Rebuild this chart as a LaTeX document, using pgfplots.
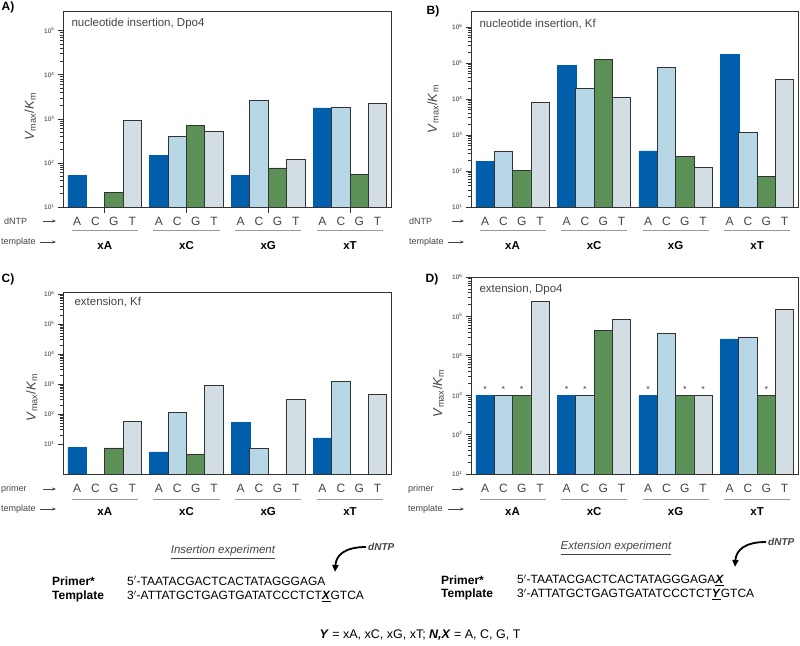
\documentclass[border=0pt]{standalone}
\usepackage{fontspec}
\setmainfont{Liberation Sans}
\usepackage{pgfplots}
\pgfplotsset{compat=1.18}
\usetikzlibrary{arrows.meta}

\definecolor{dblue}{HTML}{005EAA}
\definecolor{lblue}{HTML}{B8D7E6}
\definecolor{dgreen}{HTML}{5B9157}
\definecolor{lgray}{HTML}{D3DDE4}
\definecolor{outl}{HTML}{333333}
\definecolor{axisgray}{HTML}{333333}
\definecolor{labelgray}{HTML}{444444}
\definecolor{linegray}{HTML}{999999}

\newcommand{\tickfont}{\fontsize{6.5}{7}\selectfont}
\newcommand{\catfont}{\fontsize{12}{14}\selectfont}
\newcommand{\grpfont}{\fontsize{11.5}{13}\selectfont\bfseries}
\newcommand{\ttlfont}{\fontsize{11.5}{13}\selectfont}
\newcommand{\sidefont}{\fontsize{9}{10}\selectfont}
\newcommand{\labfont}{\fontsize{13}{15}\selectfont}
\newcommand{\seqfont}{\fontsize{12}{14}\selectfont}

\pgfplotsset{
  every axis/.append style={
    scale only axis, width=328pt,
    xmin=-0.77, xmax=17.08,
    clip mode=individual,
    axis line style={draw=axisgray, line width=0.9pt},
    xtick={0,1,2,3,4.45,5.45,6.45,7.45,8.9,9.9,10.9,11.9,13.35,14.35,15.35,16.35},
    xticklabels={A,C,G,T,A,C,G,T,A,C,G,T,A,C,G,T},
    ytick pos=left, tick align=outside, major tick length=5pt,
    xtick style={draw=none},
    ytick style={draw=axisgray, line width=0.6pt},
    yticklabel style={font=\tickfont, text=axisgray},
    xticklabel style={font=\catfont, text=labelgray, yshift=-2pt},
    ylabel style={font=\labfont, text=labelgray, anchor=center},
  },
  barA/.style={ybar, bar width=1, bar shift=0pt, fill=dblue, draw=dblue, line width=0.5pt},
  barC/.style={ybar, bar width=1, bar shift=0pt, fill=lblue, draw=outl, line width=0.8pt},
  barG/.style={ybar, bar width=1, bar shift=0pt, fill=dgreen, draw=outl, line width=0.8pt},
  barT/.style={ybar, bar width=1, bar shift=0pt, fill=lgray, draw=outl, line width=0.8pt},
}
\newcommand{\vk}{\textit{V}\textsubscript{max}/\textit{K}\textsubscript{m}}
\newcommand{\ylab}{\pgfmathtruncatemacro\ee{round(\tick/2.302585)}10\textsuperscript{\ee}}

% group line and bold template name below the axis
\newcommand{\grp}[5]{%
  \draw[linegray, line width=0.7pt] ([yshift=-\lineoff]axis cs:#1,#5) -- ([yshift=-\lineoff]axis cs:#2,#5);
  \node[font=\grpfont, text=black] at ([yshift=-\labeloff]axis cs:#3,#5) {#4};}
\newcommand{\groups}[1]{%
  \grp{-0.3}{3.3}{1.5}{xA}{#1}
  \grp{4.15}{7.75}{5.95}{xC}{#1}
  \grp{8.6}{12.2}{10.4}{xG}{#1}
  \grp{13.05}{16.65}{14.85}{xT}{#1}}

\begin{document}
\begin{tikzpicture}[x=1pt,y=1pt]
\path[use as bounding box] (0,0) rectangle (800,645);

% ---------------- A ----------------
\def\lineoff{23pt}\def\labeloff{39pt}
\begin{axis}[at={(63pt,438pt)}, anchor=south west, height=196pt,
    ymode=log, log origin=infty, yticklabel={\ylab}, ylabel={\vk},
    ymin=10, ymax=2.8e5, ytick={10,100,1000,10000,100000},
    ylabel style={at={(axis description cs:-0.1,0.46)}}]
  \addplot[barA] coordinates {(0,52) (4.45,148) (8.9,52) (13.35,1780)};
  \addplot[barC] coordinates {(5.45,390) (9.9,2640) (14.35,1800)};
  \addplot[barG] coordinates {(2,21) (6.45,725) (10.9,77) (15.35,55)};
  \addplot[barT] coordinates {(3,900) (7.45,525) (11.9,123) (16.35,2200)};
  \node[anchor=west, font=\ttlfont, text=labelgray] at ([xshift=5pt,yshift=-13pt]rel axis cs:0,1) {nucleotide insertion, Dpo4};
  \draw[axisgray, line width=0.7pt] (axis cs:1.5,10) -- ([yshift=-6pt]axis cs:1.5,10);
  \draw[axisgray, line width=0.7pt] (axis cs:5.95,10) -- ([yshift=-6pt]axis cs:5.95,10);
  \draw[axisgray, line width=0.7pt] (axis cs:10.4,10) -- ([yshift=-6pt]axis cs:10.4,10);
  \draw[axisgray, line width=0.7pt] (axis cs:14.85,10) -- ([yshift=-6pt]axis cs:14.85,10);
  \groups{10}
\end{axis}

% ---------------- B ----------------
\begin{axis}[at={(471pt,438pt)}, anchor=south west, width=327pt, height=196pt,
    ymode=log, log origin=infty, yticklabel={\ylab}, ylabel={\vk},
    ymin=10, ymax=2.75e6, ytick={10,100,1000,10000,100000,1000000},
    ylabel style={at={(axis description cs:-0.116,0.5)}}]
  \addplot[barA] coordinates {(0,187) (4.45,86000) (8.9,360) (13.35,174000)};
  \addplot[barC] coordinates {(1,360) (5.45,20000) (9.9,75000) (14.35,1160)};
  \addplot[barG] coordinates {(2,103) (6.45,123000) (10.9,250) (15.35,70)};
  \addplot[barT] coordinates {(3,7800) (7.45,11200) (11.9,125) (16.35,35000)};
  \node[anchor=west, font=\ttlfont, text=labelgray] at ([xshift=5pt,yshift=-13pt]rel axis cs:0,1) {nucleotide insertion, Kf};
  \groups{10}
\end{axis}

% ---------------- C ----------------
\def\lineoff{25pt}\def\labeloff{38pt}
\begin{axis}[at={(63pt,171pt)}, anchor=south west, height=182pt,
    ymode=log, log origin=infty, yticklabel={\ylab}, ylabel={\vk},
    ymin=1, ymax=1.17e6, ytick={10,100,1000,10000,100000,1000000},
    ylabel style={at={(axis description cs:-0.095,0.42)}}]
  \addplot[barA] coordinates {(0,7.6) (4.45,5.5) (8.9,52) (13.35,16)};
  \addplot[barC] coordinates {(5.45,113) (9.9,7.2) (14.35,1200)};
  \addplot[barG] coordinates {(2,7.4) (6.45,4.4)};
  \addplot[barT] coordinates {(3,55) (7.45,910) (11.9,310) (16.35,440)};
  \node[anchor=west, font=\ttlfont, text=labelgray] at ([xshift=8pt,yshift=-10pt]rel axis cs:0,1) {extension, Kf};
  \groups{1}
\end{axis}

% ---------------- D ----------------
\begin{axis}[at={(471pt,171pt)}, anchor=south west, width=327pt, height=197pt,
    ymode=log, log origin=infty, yticklabel={\ylab}, ylabel={\vk},
    ymin=10, ymax=1e6, ytick={10,100,1000,10000,100000,1000000},
    ylabel style={at={(axis description cs:-0.1,0.41)}}]
  \addplot[barA] coordinates {(0,1000) (4.45,1000) (8.9,1000) (13.35,27000)};
  \addplot[barC] coordinates {(1,1000) (5.45,1000) (9.9,36000) (14.35,30000)};
  \addplot[barG] coordinates {(2,1000) (6.45,43000) (10.9,1000) (15.35,1000)};
  \addplot[barT] coordinates {(3,235000) (7.45,83000) (11.9,1000) (16.35,152000)};
  \addplot[draw=none, mark=none, nodes near coords={*},
    every node near coord/.style={font=\fontsize{9}{9}\selectfont, text=labelgray, anchor=south, yshift=-1pt}]
    coordinates {(0,1000) (1,1000) (2,1000) (4.45,1000) (5.45,1000) (8.9,1000) (10.9,1000) (11.9,1000) (15.35,1000)};
  \node[anchor=west, font=\ttlfont, text=labelgray] at ([xshift=5pt,yshift=-13pt]rel axis cs:0,1) {extension, Dpo4};
  \groups{10}
\end{axis}

% panel letters
\node[font=\fontsize{12}{14}\selectfont\bfseries] at (8,638) {A)};
\node[font=\fontsize{12}{14}\selectfont\bfseries] at (433,634) {B)};
\node[font=\fontsize{12}{14}\selectfont\bfseries] at (8,366) {C)};
\node[font=\fontsize{12}{14}\selectfont\bfseries] at (432,366) {D)};

% row captions
\tikzset{side/.style={anchor=west, font=\sidefont, text=labelgray, inner sep=0pt},
         sarr/.style={labelgray, line width=0.6pt, -{Stealth[length=4pt,width=3pt]}}}
\node[side] at (4,424) {dNTP};     \draw[sarr] (43,424) -- (56,424);
\node[side] at (1,403) {template}; \draw[sarr] (40,403) -- (56,403);
\node[side] at (409,424) {dNTP};     \draw[sarr] (452,424) -- (464,424);
\node[side] at (409,403) {template}; \draw[sarr] (448,403) -- (464,403);
\node[side] at (1,156) {primer};   \draw[sarr] (43,156) -- (56,156);
\node[side] at (1,136) {template}; \draw[sarr] (40,136) -- (56,136);
\node[side] at (408,156) {primer};   \draw[sarr] (452,156) -- (464,156);
\node[side] at (408,136) {template}; \draw[sarr] (448,136) -- (464,136);

% sequences
\node[font=\fontsize{11.5}{13}\selectfont\itshape, text=labelgray] at (223,93) {\underline{Insertion experiment}};
\node[anchor=west, font=\fontsize{10}{12}\selectfont\itshape\bfseries, text=labelgray, inner sep=0pt] at (368,98) {dNTP};
\draw[black, line width=1.8pt, -{Triangle[length=7pt,width=6pt]}] (366,98) .. controls (345,98) and (336,90) .. (335,73);
\node[anchor=west, font=\seqfont\bfseries, inner sep=0pt] at (52,64) {Primer*};
\node[anchor=west, font=\seqfont\bfseries, inner sep=0pt] at (52,49) {Template};
\node[anchor=west, font=\seqfont, inner sep=0pt] at (127,64) {5$'$-TAATACGACTCACTATAGGGAGA};
\node[anchor=west, font=\seqfont, inner sep=0pt] at (127,49) {3$'$-ATTATGCTGAGTGATATCCCTCT\underline{\textbf{\textit{X}}}GTCA};

\node[font=\fontsize{11.5}{13}\selectfont\itshape, text=labelgray] at (616,97) {\underline{Extension experiment}};
\node[anchor=west, font=\fontsize{10}{12}\selectfont\itshape\bfseries, text=labelgray, inner sep=0pt] at (768,103) {dNTP};
\draw[black, line width=1.8pt, -{Triangle[length=7pt,width=6pt]}] (766,103) .. controls (745,103) and (736,95) .. (735,78);
\node[anchor=west, font=\seqfont\bfseries, inner sep=0pt] at (441,65) {Primer*};
\node[anchor=west, font=\seqfont\bfseries, inner sep=0pt] at (441,51) {Template};
\node[anchor=west, font=\seqfont, inner sep=0pt] at (517,65) {5$'$-TAATACGACTCACTATAGGGAGA\underline{\textbf{\textit{X}}}};
\node[anchor=west, font=\seqfont, inner sep=0pt] at (517,51) {3$'$-ATTATGCTGAGTGATATCCCTCT\underline{\textbf{\textit{Y}}}GTCA};

\node[font=\fontsize{12.5}{14}\selectfont] at (420,10) {\textbf{\textit{Y}} = xA, xC, xG, xT; \textbf{\textit{N,X}} = A, C, G, T};
\end{tikzpicture}
\end{document}
